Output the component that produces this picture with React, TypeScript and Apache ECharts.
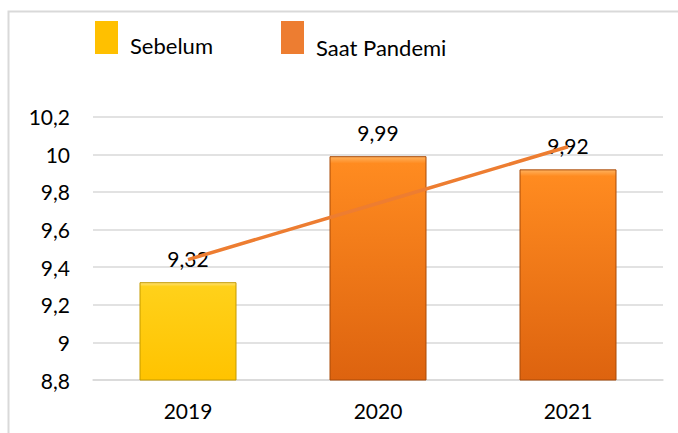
import React, { useEffect, useRef } from "react";
import * as echarts from "echarts";

const categories = ["2019", "2020", "2021"];
const sebelumValues: (number | string)[] = [9.32, "-", "-"];
const pandemiValues: (number | string)[] = ["-", 9.99, 9.92];
const trendValues = [9.44, 9.74, 10.04];
const legendNames = ["Sebelum", "Saat Pandemi"];
const legendColors = ["#FFC000", "#ED7D31"];
const yMin = 8.8;
const yMax = 10.2;
const yStep = 0.2;

const fmt = (v: number) => String(Math.round(v * 100) / 100).replace(".", ",");

export default function App() {
  const ref = useRef<HTMLDivElement>(null);
  useEffect(() => {
    if (!ref.current) return;
    const chart = echarts.init(ref.current, null, { renderer: "svg" });
    const font = "Lato";
    const yellowGrad = new echarts.graphic.LinearGradient(0, 0, 0, 1, [
      { offset: 0, color: "#FFE27A" },
      { offset: 0.04, color: "#FFD11A" },
      { offset: 1, color: "#FFC300" },
    ]);
    const orangeGrad = new echarts.graphic.LinearGradient(0, 0, 0, 1, [
      { offset: 0, color: "#FFB25E" },
      { offset: 0.03, color: "#FF8B20" },
      { offset: 1, color: "#DD630F" },
    ]);
    const legendPos = [
      { ix: 95, tx: 130, ty: 45 },
      { ix: 281, tx: 316, ty: 47 },
    ];
    const legendGraphics: any[] = [];
    legendNames.forEach((name, i) => {
      legendGraphics.push({
        type: "rect",
        shape: { x: legendPos[i].ix, y: 21, width: 23, height: 33 },
        style: { fill: legendColors[i] },
        silent: true,
      });
      legendGraphics.push({
        type: "text",
        x: legendPos[i].tx,
        y: legendPos[i].ty,
        style: {
          text: name,
          fontFamily: font,
          fontSize: 22,
          fill: "#000",
          verticalAlign: "middle",
          align: "left",
        },
        silent: true,
      });
    });
    chart.setOption({
      animation: false,
      backgroundColor: "#ffffff",
      graphic: [
        {
          type: "rect",
          shape: { x: 8.5, y: 11.5, width: 700, height: 500 },
          style: { fill: "none", stroke: "#d9d9d9", lineWidth: 2 },
          silent: true,
        },
        ...legendGraphics,
      ],
      grid: { left: 93, right: 15, top: 116.7, bottom: 53 },
      xAxis: {
        type: "category",
        data: categories,
        axisLine: { lineStyle: { color: "#d9d9d9", width: 1.5 } },
        axisTick: { show: false },
        axisLabel: { fontFamily: font, fontSize: 21, color: "#000", margin: 20 },
      },
      yAxis: {
        type: "value",
        min: yMin,
        max: yMax,
        interval: yStep,
        axisLine: { show: false },
        axisTick: { show: false },
        splitLine: { lineStyle: { color: "#d9d9d9", width: 1.5 } },
        axisLabel: {
          fontFamily: font,
          fontSize: 21,
          color: "#000",
          margin: 23,
          formatter: (v: number) => fmt(v),
        },
      },
      series: [
        {
          name: legendNames[0],
          type: "bar",
          data: sebelumValues,
          barWidth: 97,
          barGap: "-100%",
          itemStyle: { color: yellowGrad, borderColor: "#C49A00", borderWidth: 1 },
          label: {
            show: true,
            position: "top",
            distance: 13,
            fontFamily: font,
            fontSize: 21,
            color: "#000",
            formatter: (p: any) => fmt(p.value),
          },
        },
        {
          name: legendNames[1],
          type: "bar",
          data: pandemiValues,
          barWidth: 97,
          barGap: "-100%",
          itemStyle: { color: orangeGrad, borderColor: "#A84A08", borderWidth: 1 },
          label: {
            show: true,
            position: "top",
            distance: 13,
            fontFamily: font,
            fontSize: 21,
            color: "#000",
            formatter: (p: any) => fmt(p.value),
          },
        },
        {
          name: "Trend",
          type: "line",
          data: trendValues,
          symbol: "none",
          lineStyle: { color: "#ED7D31", width: 3.5 },
          z: 5,
        },
      ],
    });
    return () => chart.dispose();
  }, []);
  return (
    <div
      ref={ref}
      style={{ position: "fixed", left: 0, top: 0, width: 678, height: 433 }}
    />
  );
}
